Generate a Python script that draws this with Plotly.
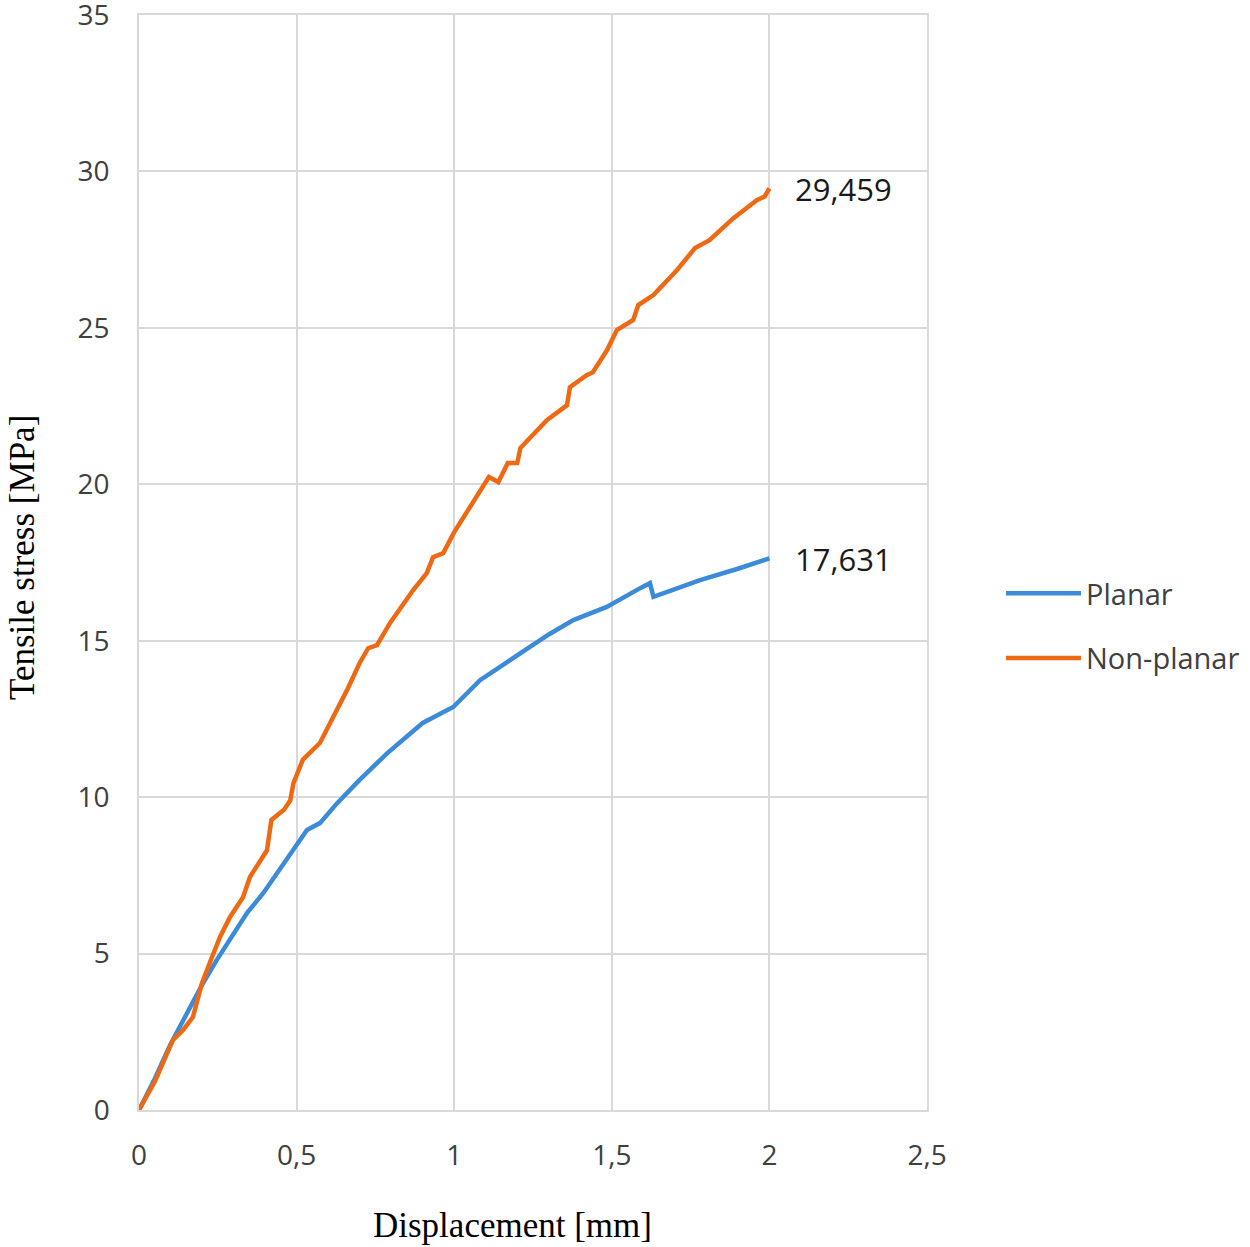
import plotly.graph_objects as go

# Non-planar series
nonplanar_x = [0, 0.05, 0.108, 0.14, 0.171, 0.2, 0.232, 0.257, 0.289, 0.33, 0.352, 0.406, 0.42, 0.46, 0.48,
               0.49, 0.52, 0.574, 0.616, 0.66, 0.70, 0.727, 0.755, 0.796, 0.87, 0.913, 0.933, 0.965, 1.0,
               1.06, 1.11, 1.14, 1.17, 1.2, 1.21, 1.294, 1.358, 1.367, 1.42, 1.44, 1.485, 1.516, 1.568,
               1.584, 1.632, 1.707, 1.764, 1.81, 1.885, 1.96, 1.985, 2.0]
nonplanar_y = [0, 0.9, 2.24, 2.56, 2.97, 4.06, 4.9, 5.53, 6.17, 6.8, 7.45, 8.3, 9.27, 9.6, 9.9,
               10.45, 11.2, 11.73, 12.56, 13.42, 14.29, 14.76, 14.86, 15.56, 16.62, 17.16, 17.67, 17.8, 18.47,
               19.4, 20.23, 20.07, 20.68, 20.68, 21.16, 22.05, 22.53, 23.1, 23.49, 23.58, 24.29, 24.93, 25.25,
               25.73, 26.05, 26.85, 27.55, 27.8, 28.5, 29.08, 29.2, 29.459]

# Planar series
planar_x = [0, 0.05, 0.1, 0.152, 0.2, 0.247, 0.3, 0.343, 0.394, 0.44, 0.489, 0.533, 0.574, 0.628, 0.70,
            0.787, 0.90, 0.997, 1.082, 1.15, 1.23, 1.30, 1.378, 1.484, 1.59, 1.621, 1.632, 1.70, 1.78,
            1.90, 2.0]
planar_y = [0, 1.0, 2.1, 3.1, 4.0, 4.8, 5.6, 6.3, 6.93, 7.6, 8.3, 8.95, 9.17, 9.8, 10.55,
            11.4, 12.37, 12.88, 13.74, 14.2, 14.7, 15.2, 15.66, 16.08, 16.68, 16.84, 16.4, 16.65, 16.94,
            17.3, 17.631]

x_ticks = [0, 0.5, 1, 1.5, 2, 2.5]
x_tick_labels = ["0", "0,5", "1", "1,5", "2", "2,5"]
y_ticks = [0, 5, 10, 15, 20, 25, 30, 35]

BLUE = "#3C8BD8"
ORANGE = "#EE6914"
GRID = "#D9D9D9"
SANS = "Open Sans, Noto Sans, sans-serif"
SERIF = "Liberation Serif, Times New Roman, serif"
TICKFONT = dict(family=SANS, size=28, color="#404040")

fig = go.Figure()
fig.add_trace(go.Scatter(x=planar_x, y=planar_y, mode="lines", name="Planar",
                         line=dict(color=BLUE, width=4.5), legendgroup="a"))
fig.add_trace(go.Scatter(x=nonplanar_x, y=nonplanar_y, mode="lines", name="Non-planar",
                         line=dict(color=ORANGE, width=4.5), legendgroup="b"))

for xs, ys in [(nonplanar_x, nonplanar_y), (planar_x, planar_y)]:
    fig.add_annotation(x=xs[-1], y=ys[-1], text=f"{ys[-1]:.3f}".replace(".", ","),
                       showarrow=False, xanchor="left", yanchor="middle", xshift=24, yshift=-1,
                       font=dict(family=SANS, size=31, color="#1a1a1a"))

# axis titles placed as in the reference
fig.add_annotation(xref="paper", yref="paper", x=(512 - 139) / 788, y=-(1225 - 1110) / 1095,
                   text="Displacement [mm]", showarrow=False, xanchor="center", yanchor="middle",
                   font=dict(family=SERIF, size=35, color="black"))
fig.add_annotation(xref="paper", yref="paper", x=-(139 - 22) / 788, y=(1110 - 558) / 1095,
                   text="Tensile stress [MPa]", showarrow=False, textangle=-90,
                   xanchor="center", yanchor="middle",
                   font=dict(family=SERIF, size=35, color="black"))

fig.update_layout(
    width=1250, height=1247,
    margin=dict(l=139, r=323, t=15, b=137),
    plot_bgcolor="white", paper_bgcolor="white",
    showlegend=True,
    legend=dict(xref="container", yref="container", x=1001 / 1250, y=1 - 626 / 1247,
                xanchor="left", yanchor="middle",
                itemwidth=75, tracegroupgap=24, traceorder="grouped",
                font=dict(family=SANS, size=29, color="#404040")),
)
fig.update_xaxes(range=[0, 2.5], tickvals=x_ticks, ticktext=x_tick_labels, showgrid=True,
                 gridcolor=GRID, gridwidth=1.5, showline=True, mirror=True, linecolor=GRID, linewidth=1.5,
                 zeroline=False, ticks="", tickfont=TICKFONT, ticklabelstandoff=20,
                 ticklabeloverflow="allow", automargin=False)
fig.update_yaxes(range=[0, 35], tickvals=y_ticks, showgrid=True,
                 gridcolor=GRID, gridwidth=1.5, showline=True, mirror=True, linecolor=GRID, linewidth=1.5,
                 zeroline=False, ticks="", tickfont=TICKFONT, ticklabelstandoff=22,
                 ticklabeloverflow="allow", automargin=False)

fig.write_html("out.html")
